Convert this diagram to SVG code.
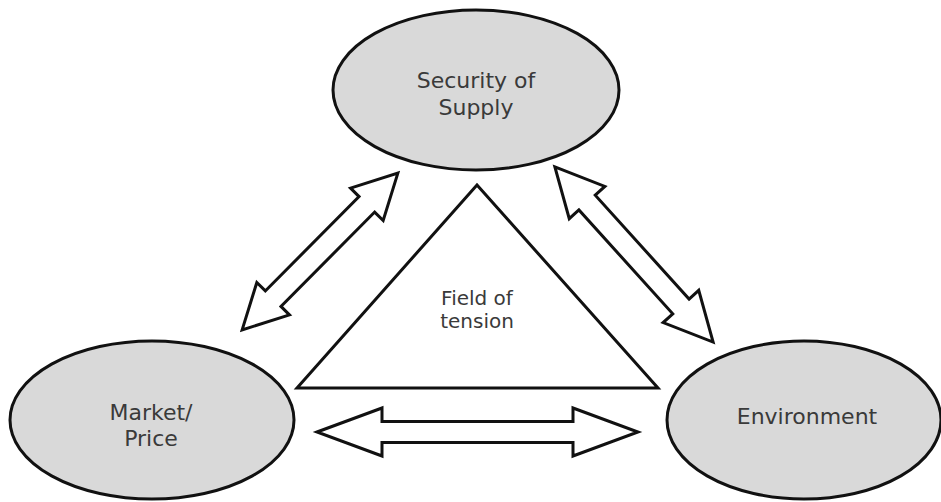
<svg xmlns="http://www.w3.org/2000/svg" width="941" height="502" viewBox="0 0 941 502">
<style>
.node{fill:#d9d9d9;stroke:#111;stroke-width:3}
.lbl{font-family:"DejaVu Sans",Verdana,sans-serif;font-size:22px;fill:#3a3a3a;text-anchor:middle}
.arr{fill:#fff;stroke:#111;stroke-width:3;stroke-linejoin:miter}
</style>
<rect width="941" height="502" fill="#fff"/>
<g id="field">
<polygon points="477,185 297,388 658,388" fill="#fff" stroke="#111" stroke-width="3"/>
<text class="lbl" style="font-size:20px" x="477" y="305">Field of</text>
<text class="lbl" style="font-size:20px" x="477" y="328">tension</text>
</g>
<g id="connectors">
<path class="arr" transform="translate(320,251.5) rotate(-45.2)" d="M-110.5,0 L-66.5,-23 L-66.5,-11 L66.5,-11 L66.5,-23 L110.5,0 L66.5,23 L66.5,11 L-66.5,11 L-66.5,23 Z"/>
<path class="arr" transform="translate(634,254.5) rotate(47.9)" d="M-118,0 L-70,-24 L-70,-11 L70,-11 L70,-24 L118,0 L70,24 L70,11 L-70,11 L-70,24 Z"/>
<path class="arr" transform="translate(477.5,432)" d="M-160.5,0 L-95.5,-24 L-95.5,-10.5 L95.5,-10.5 L95.5,-24 L160.5,0 L95.5,24 L95.5,10.5 L-95.5,10.5 L-95.5,24 Z"/>
</g>
<g id="security">
<ellipse class="node" cx="476" cy="90" rx="143" ry="80"/>
<text class="lbl" x="476" y="88">Security of</text>
<text class="lbl" x="476" y="115">Supply</text>
</g>
<g id="market">
<ellipse class="node" cx="152" cy="420" rx="142" ry="79"/>
<text class="lbl" x="151" y="420">Market/</text>
<text class="lbl" x="151" y="446">Price</text>
</g>
<g id="environment">
<ellipse class="node" cx="804" cy="420" rx="137" ry="79"/>
<text class="lbl" x="807" y="424">Environment</text>
</g>
</svg>
